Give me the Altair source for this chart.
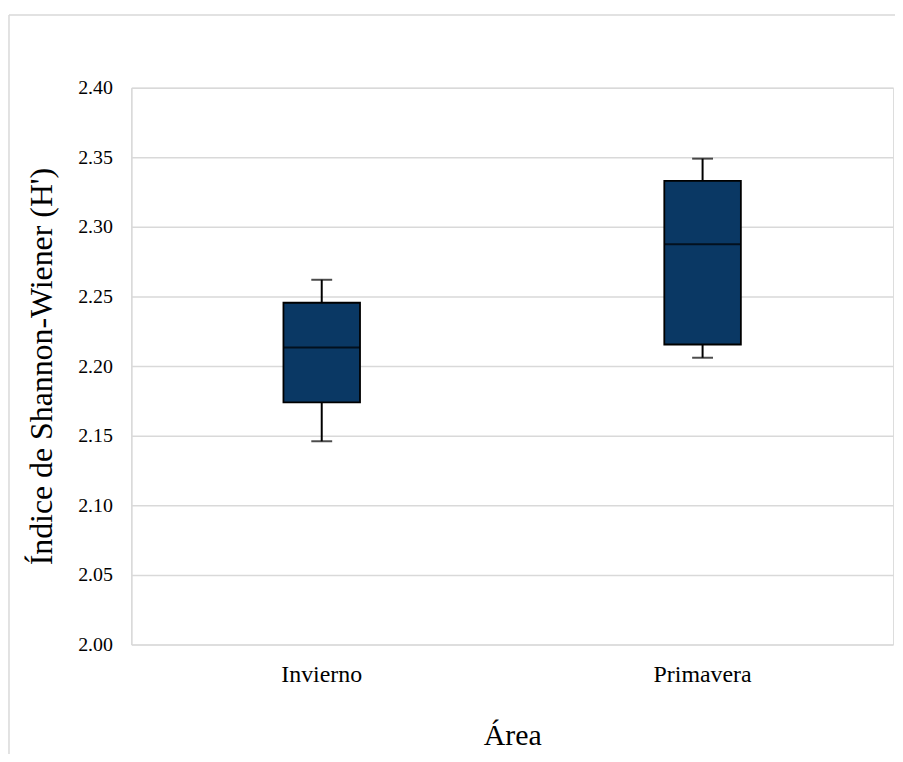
import altair as alt
import pandas as pd

# --- data ---
categories = ["Invierno", "Primavera"]
whisker_low = [2.146, 2.206]
q1 = [2.174, 2.2155]
median = [2.2134, 2.2876]
q3 = [2.2455, 2.333]
whisker_high = [2.262, 2.349]
y_ticks = [2.00, 2.05, 2.10, 2.15, 2.20, 2.25, 2.30, 2.35, 2.40]

df = pd.DataFrame({
    "Área": categories,
    "low": whisker_low,
    "q1": q1,
    "med": median,
    "q3": q3,
    "high": whisker_high,
})

FONT = "Liberation Serif"
W, H = 766, 560
GRID = "#d9d9d9"
FILL = "#0a3864"

x_enc = alt.X(
    "Área:N",
    sort=categories,
    scale=alt.Scale(paddingInner=0, paddingOuter=0),
    axis=alt.Axis(
        title="Área",
        titleFont=FONT, titleFontSize=30, titleFontWeight="normal", titleColor="black",
        titleX=W / 2, titleY=101, titleBaseline="alphabetic", titleAlign="center",
        labelFont=FONT, labelFontSize=24, labelColor="black", labelPadding=18,
        labelAngle=0, ticks=False, tickSize=0, domain=False, grid=False,
    ),
)

y_scale = alt.Scale(domain=[2.0, 2.4], nice=False, zero=False)
y_axis = alt.Axis(
    title="Índice de Shannon-Wiener (H')",
    titleFont=FONT, titleFontSize=32, titleFontWeight="normal", titleColor="black",
    titleX=-80, titleY=H / 2, titleBaseline="alphabetic", titleAlign="center", titleAngle=270,
    labelFont=FONT, labelFontSize=20, labelColor="black", labelPadding=19,
    values=y_ticks, format=".2f", ticks=False, tickSize=0,
    grid=True, gridColor=GRID, gridWidth=1.5,
    domain=True, domainColor=GRID, domainWidth=1.5,
)

base = alt.Chart(df)

whisker = base.mark_rule(color="black", strokeWidth=2).encode(
    x=x_enc,
    y=alt.Y("low:Q", scale=y_scale, axis=y_axis),
    y2="high:Q",
)

box = base.mark_bar(size=77, fill=FILL, stroke="black", strokeWidth=1.8).encode(
    x=alt.X("Área:N", sort=categories),
    y="q1:Q",
    y2="q3:Q",
)

med = base.mark_tick(size=77, thickness=2, color="black").encode(
    x=alt.X("Área:N", sort=categories),
    y="med:Q",
)

cap_low = base.mark_tick(size=21, thickness=2, color="black").encode(
    x=alt.X("Área:N", sort=categories),
    y="low:Q",
)
cap_high = base.mark_tick(size=21, thickness=2, color="black").encode(
    x=alt.X("Área:N", sort=categories),
    y="high:Q",
)

# outer chart-area frame (decoration)
frame_df = pd.DataFrame({"k": [0]})
frame_top = alt.Chart(frame_df).mark_rule(color=GRID, strokeWidth=1.5).encode(
    x=alt.value(-123), x2=alt.value(W + 2), y=alt.value(-73)
)
frame_left = alt.Chart(frame_df).mark_rule(color=GRID, strokeWidth=1.5).encode(
    x=alt.value(-123), y=alt.value(-73), y2=alt.value(H + 110)
)

chart = alt.layer(frame_top, frame_left, whisker, box, med, cap_low, cap_high).properties(
    width=W,
    height=H,
    autosize=alt.AutoSizeParams(type="none"),
    padding={"left": 124, "top": 78, "right": 2, "bottom": 108},
    background="white",
).configure_view(strokeOpacity=0, strokeWidth=0).configure_axis(
    labelFont=FONT, titleFont=FONT, labelColor="black", titleColor="black"
).configure(font=FONT)

chart.save("out.html", embed_options={"renderer": "svg", "actions": False})
